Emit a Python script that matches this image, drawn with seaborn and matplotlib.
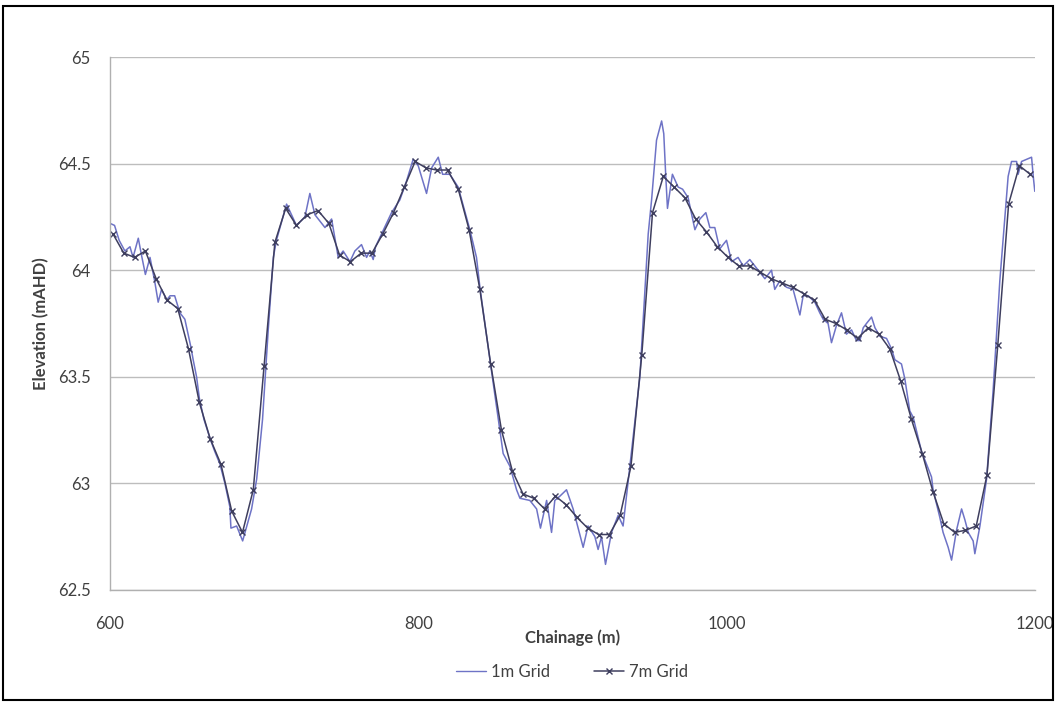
import matplotlib
matplotlib.use("Agg")
import matplotlib.pyplot as plt
from matplotlib.patches import Rectangle
from matplotlib.lines import Line2D
import seaborn as sns

# 1m grid profile - vertices
chain_1m = [600, 603, 606, 609.7, 613, 615, 618.4, 620.5, 623, 626, 629, 631.3, 633.5, 636.8,
            639, 642, 645.4, 648.6, 652.5, 654, 656.2, 658, 661, 665, 668, 671.4, 674.6,
            677.8, 678.5, 682.2, 686.1, 691.9, 695.2, 699, 702.7, 706, 708, 714.6, 717.8,
            721, 726.5, 729.7, 733, 739.5, 743.8, 748.1, 751.3, 755.7, 758.9, 763.2, 766.5,
            768.6, 770.8, 772.3, 776.2, 782.7, 788.1, 792.5, 796.7, 800, 805.4, 808.7, 813,
            815.8, 820.5, 825.9, 833.5, 837.8, 840, 846.9, 853, 855.1, 859.5, 863.8, 866,
            872.4, 876.8, 879.3, 883.3, 886.5, 888.6, 891.9, 896.2, 900.5, 907, 910.2, 914.6,
            916.7, 918.9, 921.5, 925.4, 929.7, 932.9, 937.3, 943.8, 949.2, 951.4, 954.6,
            957.9, 959.3, 960.6, 961.7, 964.9, 968.6, 971.5, 975.1, 979.5, 982.7, 986.6,
            989.2, 992.4, 995.6, 1000, 1003.3, 1007.5, 1010.8, 1015.1, 1020.5, 1024.9,
            1029.2, 1031.3, 1034.6, 1038.9, 1043.2, 1047.6, 1049.7, 1053, 1057.3, 1060.5,
            1062.7, 1065.9, 1068.1, 1071.3, 1074.6, 1077.8, 1081.1, 1084.3, 1086.5, 1088.7,
            1090.8, 1094.1, 1096.3, 1099.5, 1103.8, 1107.1, 1109.2, 1113.5, 1115.7, 1118.9,
            1121.1, 1126.5, 1133, 1134, 1138.4, 1140.5, 1143.8, 1146, 1149.2, 1152.5, 1154.6,
            1156.8, 1160, 1161.1, 1164.4, 1168.7, 1173, 1177.3, 1180.6, 1182.7, 1184.9,
            1188.2, 1189.2, 1191.4, 1194.6, 1197.9, 1199, 1200]
elev_1m = [64.22, 64.21, 64.14, 64.09, 64.11, 64.06, 64.15, 64.07, 63.98, 64.06, 63.95, 63.85,
           63.91, 63.86, 63.88, 63.88, 63.80, 63.77, 63.64, 63.58, 63.50, 63.40, 63.30, 63.21,
           63.15, 63.09, 63.00, 62.89, 62.79, 62.80, 62.73, 62.88, 63.02, 63.30, 63.72, 64.06,
           64.14, 64.31, 64.26, 64.21, 64.25, 64.36, 64.26, 64.20, 64.24, 64.06, 64.09, 64.04,
           64.09, 64.12, 64.06, 64.09, 64.05, 64.11, 64.17, 64.27, 64.33, 64.42, 64.52, 64.49,
           64.36, 64.48, 64.53, 64.45, 64.45, 64.39, 64.19, 64.06, 63.92, 63.56, 63.25, 63.14,
           63.08, 62.97, 62.93, 62.92, 62.88, 62.79, 62.92, 62.77, 62.92, 62.94, 62.97, 62.88,
           62.70, 62.80, 62.75, 62.69, 62.75, 62.62, 62.77, 62.85, 62.80, 63.08, 63.50, 64.17,
           64.33, 64.61, 64.70, 64.64, 64.44, 64.29, 64.45, 64.39, 64.38, 64.34, 64.19, 64.24,
           64.27, 64.20, 64.20, 64.10, 64.14, 64.04, 64.06, 64.02, 64.05, 64.00, 63.96, 64.00,
           63.91, 63.95, 63.92, 63.91, 63.79, 63.88, 63.88, 63.85, 63.80, 63.77, 63.75, 63.66,
           63.74, 63.80, 63.70, 63.72, 63.67, 63.67, 63.73, 63.75, 63.78, 63.73, 63.69, 63.68,
           63.63, 63.58, 63.56, 63.49, 63.34, 63.31, 63.15, 63.03, 62.97, 62.84, 62.77, 62.70,
           62.64, 62.78, 62.88, 62.83, 62.77, 62.73, 62.67, 62.80, 63.02, 63.44, 63.95, 64.25,
           64.44, 64.51, 64.51, 64.45, 64.51, 64.52, 64.53, 64.44, 64.37]

# 7m grid profile
chain_7m = list(range(602, 1198, 7))
elev_7m = [64.17, 64.08, 64.06, 64.09, 63.96, 63.86, 63.82, 63.63, 63.38, 63.21, 63.09, 62.87,
           62.77, 62.97, 63.55, 64.13, 64.29, 64.21, 64.26, 64.28, 64.22, 64.07, 64.04, 64.08,
           64.08, 64.17, 64.27, 64.39, 64.51, 64.48, 64.47, 64.47, 64.38, 64.19, 63.91, 63.56,
           63.25, 63.06, 62.95, 62.93, 62.88, 62.94, 62.90, 62.84, 62.79, 62.76, 62.76, 62.85,
           63.08, 63.60, 64.27, 64.44, 64.39, 64.34, 64.24, 64.18, 64.11, 64.06, 64.02, 64.02,
           63.99, 63.96, 63.94, 63.92, 63.89, 63.86, 63.77, 63.75, 63.72, 63.68, 63.73, 63.70,
           63.63, 63.48, 63.30, 63.14, 62.96, 62.81, 62.77, 62.78, 62.80, 63.04, 63.65, 64.31,
           64.49, 64.45]

y_ticks = [62.5, 63, 63.5, 64, 64.5, 65]
y_labels = ["62.5", "63", "63.5", "64", "64.5", "65"]
x_ticks = [600, 800, 1000, 1200]

sns.set_style("white")
plt.rcParams["font.family"] = ["Lato", "DejaVu Sans"]

c1 = "#6e73c6"
c7 = "#3e3e5e"
txt = "#404040"

fig = plt.figure(figsize=(10.57, 7.04), dpi=100)
ax = fig.add_axes([0.104, 0.162, 0.875, 0.757])

sns.lineplot(x=chain_1m, y=elev_1m, ax=ax, color=c1, lw=1.1, sort=False)
sns.lineplot(x=chain_7m, y=elev_7m, ax=ax, color=c7, lw=1.1, marker="x",
             markersize=5, markeredgewidth=1.0, markeredgecolor=c7, sort=False)

ax.set_xlim(600, 1200)
ax.set_ylim(62.5, 65)
ax.set_xticks(x_ticks)
ax.set_xticklabels([str(t) for t in x_ticks])
ax.set_yticks(y_ticks)
ax.set_yticklabels(y_labels)
ax.yaxis.grid(True, color="#bdbdbd", lw=1)
ax.xaxis.grid(False)
for s in ["top", "right"]:
    ax.spines[s].set_visible(False)
for s in ["left", "bottom"]:
    ax.spines[s].set_color("#b0b0b0")
    ax.spines[s].set_linewidth(1)
ax.tick_params(axis="both", direction="out", length=5, color="#b0b0b0",
               labelsize=12, labelcolor=txt)
ax.tick_params(axis="x", pad=14)
ax.tick_params(axis="y", length=4, pad=10)

ax.set_xlabel("Chainage (m)", fontsize=12, fontweight="bold", color=txt, labelpad=-2)
ax.set_ylabel("Elevation (mAHD)", fontsize=12, fontweight="bold", color=txt, labelpad=6)

handles = [Line2D([], [], color=c1, lw=1.0),
           Line2D([], [], color=c7, lw=1.1, marker="x", markersize=4)]
fig.legend(handles, ["1m Grid", "7m Grid"], loc="center", bbox_to_anchor=(0.541, 0.046),
           ncol=2, frameon=False, fontsize=12, handlelength=1.8, handletextpad=0.3,
           columnspacing=2.6, labelcolor=txt)

fig.patches.append(Rectangle((0.003, 0.006), 0.993, 0.985, transform=fig.transFigure,
                             fill=False, edgecolor="black", lw=1.5))

fig.savefig("out.png", dpi=100)
